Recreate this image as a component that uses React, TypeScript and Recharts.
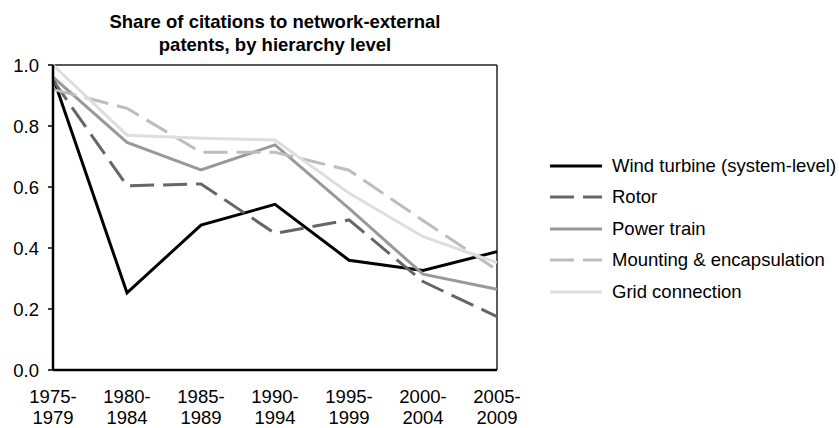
import { LineChart, Line, XAxis, YAxis, ReferenceLine } from 'recharts';

const PERIODS = ['1975-1979', '1980-1984', '1985-1989', '1990-1994', '1995-1999', '2000-2004', '2005-2009'];
const WIND_TURBINE = [0.96, 0.253, 0.475, 0.543, 0.36, 0.326, 0.388];
const ROTOR = [0.95, 0.604, 0.61, 0.448, 0.492, 0.29, 0.175];
const POWER_TRAIN = [0.96, 0.746, 0.656, 0.738, 0.53, 0.314, 0.265];
const MOUNTING = [0.92, 0.858, 0.714, 0.714, 0.655, 0.49, 0.328];
const GRID = [1.0, 0.77, 0.76, 0.754, 0.58, 0.437, 0.352];
const Y_TICKS = [0, 0.2, 0.4, 0.6, 0.8, 1.0];

const SERIES = [
  { key: 'wind', name: 'Wind turbine (system-level)', values: WIND_TURBINE, color: '#000000', dash: undefined },
  { key: 'rotor', name: 'Rotor', values: ROTOR, color: '#666666', dash: '24 9' },
  { key: 'power', name: 'Power train', values: POWER_TRAIN, color: '#999999', dash: undefined },
  { key: 'mount', name: 'Mounting & encapsulation', values: MOUNTING, color: '#bdbdbd', dash: '24 9' },
  { key: 'grid', name: 'Grid connection', values: GRID, color: '#dedede', dash: undefined },
];

const data = PERIODS.map((p, i) => {
  const row: Record<string, string | number> = { period: p };
  SERIES.forEach((s) => (row[s.key] = s.values[i]));
  return row;
});

const FONT = 'Liberation Sans, Arial, sans-serif';
const FS = 18.5;

// two-line period label, split at the dash
function PeriodTick(props: any) {
  const { x, y, payload } = props;
  const [a, b] = String(payload.value).split('-');
  return (
    <text x={x} y={y} textAnchor="middle" fontFamily={FONT} fontSize={FS} fill="#000">
      <tspan x={x} dy={25}>{a}-</tspan>
      <tspan x={x} dy={21}>{b}</tspan>
    </text>
  );
}

function LegendBox() {
  return (
    <div style={{ position: 'absolute', left: 550, top: 150, fontFamily: FONT, fontSize: FS, color: '#000' }}>
      {SERIES.map((s) => (
        <div key={s.key} style={{ display: 'flex', alignItems: 'center', height: 31.5 }}>
          <svg width={52} height={6} style={{ marginRight: 10 }}>
            <line x1={0} y1={3} x2={52} y2={3} stroke={s.color} strokeWidth={3} strokeDasharray={s.dash} />
          </svg>
          <span>{s.name}</span>
        </div>
      ))}
    </div>
  );
}

export default function App() {
  return (
    <div style={{ position: 'absolute', left: 0, top: 0, width: 839, height: 428, background: '#fff' }}>
      <div
        style={{
          position: 'absolute',
          left: 53,
          width: 444,
          top: 10,
          textAlign: 'center',
          fontFamily: FONT,
          fontWeight: 'bold',
          fontSize: FS,
          lineHeight: '23px',
        }}
      >
        Share of citations to network-external
        <br />
        patents, by hierarchy level
      </div>
      <LineChart width={839} height={428} data={data} margin={{ top: 65, right: 342, bottom: 0, left: 0 }}>
        <ReferenceLine y={1} stroke="#222" strokeWidth={1.5} />
        <ReferenceLine x="2005-2009" stroke="#222" strokeWidth={1.5} />
        <XAxis
          dataKey="period"
          interval={0}
          height={58}
          axisLine={{ stroke: '#000', strokeWidth: 2.5 }}
          tickLine={false}
          tick={<PeriodTick />}
        />
        <YAxis
          domain={[0, 1]}
          ticks={Y_TICKS}
          width={53}
          tickFormatter={(v: number) => v.toFixed(1)}
          axisLine={{ stroke: '#000', strokeWidth: 2.5 }}
          tickLine={{ stroke: '#000', strokeWidth: 1.5 }}
          tickSize={5}
          tickMargin={9}
          tick={{ fill: '#000', fontSize: FS, fontFamily: FONT }}
        />
        {SERIES.map((s) => (
          <Line
            key={s.key}
            dataKey={s.key}
            name={s.name}
            stroke={s.color}
            strokeWidth={3}
            strokeDasharray={s.dash}
            dot={false}
            isAnimationActive={false}
          />
        ))}
      </LineChart>
      <LegendBox />
    </div>
  );
}
